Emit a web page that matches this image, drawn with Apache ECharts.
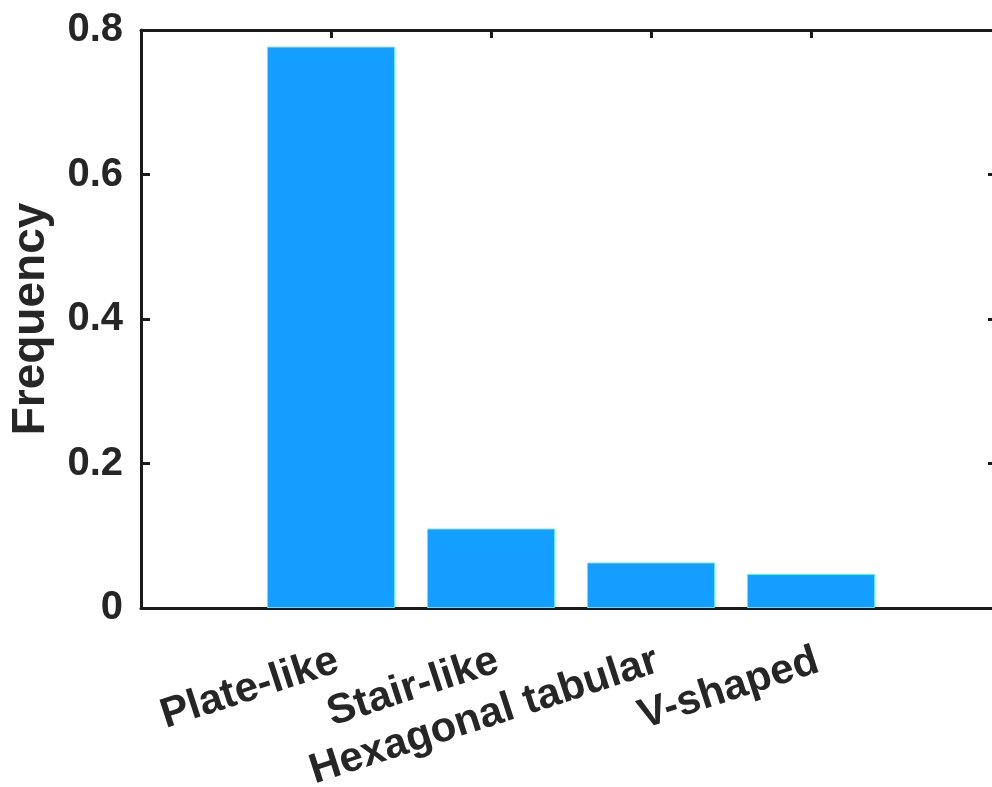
<!DOCTYPE html>
<html>
<head>
<meta charset="utf-8">
<script src="https://cdn.jsdelivr.net/npm/echarts@6/dist/echarts.min.js"></script>
<style>
  html, body { margin: 0; padding: 0; background: #fff; overflow: hidden; }
  #chart { width: 992px; height: 787px; }
</style>
</head>
<body>
<div id="chart"></div>
<script>
// Crystal morphology frequencies
const categories = ['Plate-like', 'Stair-like', 'Hexagonal tabular', 'V-shaped'];
const frequency = [0.777, 0.110, 0.063, 0.047];
const yTicks = [0, 0.2, 0.4, 0.6, 0.8];

const FONT = '"Liberation Sans", Arial, Helvetica, sans-serif';
const INK = '#262626';
const LINE = '#1a1a1a';

const chart = echarts.init(document.getElementById('chart'), null, { renderer: 'canvas' });

const yMin = yTicks[0];
const yMax = yTicks[yTicks.length - 1];
const yStep = yTicks[1] - yTicks[0];

const boxLine = { show: true, onZero: false, lineStyle: { color: LINE, width: 3 } };

chart.setOption({
  animation: false,
  backgroundColor: '#ffffff',
  grid: [
    // axes box; its right edge runs just past the canvas
    { left: 141, top: 30, width: 856, bottom: 179, containLabel: false, outerBoundsMode: 'none' },
    // bar area (categories sit at the middle of the box)
    { left: 251, top: 30, width: 640, bottom: 179, containLabel: false, outerBoundsMode: 'none' }
  ],
  xAxis: [
    {
      gridIndex: 0, type: 'value', position: 'bottom', min: 0, max: 1,
      axisLine: boxLine,
      axisTick: { show: false }, axisLabel: { show: false }, splitLine: { show: false }
    },
    {
      gridIndex: 0, type: 'value', position: 'top', min: 0, max: 1,
      axisLine: boxLine,
      axisTick: { show: false }, axisLabel: { show: false }, splitLine: { show: false }
    },
    {
      gridIndex: 1, type: 'category', position: 'bottom', data: categories,
      boundaryGap: true,
      axisLine: { show: false },
      axisTick: { show: true, inside: true, alignWithLabel: true, length: 8,
                  lineStyle: { color: LINE, width: 3 } },
      axisLabel: {
        show: true, interval: 0, rotate: 18, margin: 32,
        align: 'right', verticalAlign: 'top',
        color: INK, fontFamily: FONT, fontWeight: 'bold', fontSize: 42
      },
      splitLine: { show: false }
    },
    {
      gridIndex: 1, type: 'category', position: 'top', data: categories,
      boundaryGap: true,
      axisLine: { show: false },
      axisTick: { show: true, inside: true, alignWithLabel: true, length: 8,
                  lineStyle: { color: LINE, width: 3 } },
      axisLabel: { show: false }, splitLine: { show: false }
    }
  ],
  yAxis: [
    {
      gridIndex: 0, type: 'value', position: 'left', min: yMin, max: yMax, interval: yStep,
      name: 'Frequency', nameLocation: 'middle', nameGap: 87, nameRotate: 90,
      nameTextStyle: { color: INK, fontFamily: FONT, fontWeight: 'bold', fontSize: 46 },
      axisLine: boxLine,
      axisTick: { show: true, inside: true, length: 9, lineStyle: { color: LINE, width: 3 } },
      axisLabel: {
        show: true, margin: 18, color: INK, fontFamily: FONT, fontWeight: 'bold', fontSize: 40,
        formatter: v => (v === 0 ? '0' : String(Math.round(v * 10) / 10))
      },
      splitLine: { show: false }
    },
    {
      gridIndex: 0, type: 'value', position: 'right', min: yMin, max: yMax, interval: yStep,
      axisLine: boxLine,
      axisTick: { show: true, inside: true, length: 9, lineStyle: { color: LINE, width: 3 } },
      axisLabel: { show: false }, splitLine: { show: false }
    },
    {
      gridIndex: 1, type: 'value', min: yMin, max: yMax, show: false
    }
  ],
  series: [
    {
      type: 'bar',
      xAxisIndex: 2,
      yAxisIndex: 2,
      data: frequency,
      barWidth: '80%',
      itemStyle: { color: '#149eff', borderColor: '#4ef2ff', borderWidth: 1 },
      z: 1
    }
  ]
});
</script>
</body>
</html>
